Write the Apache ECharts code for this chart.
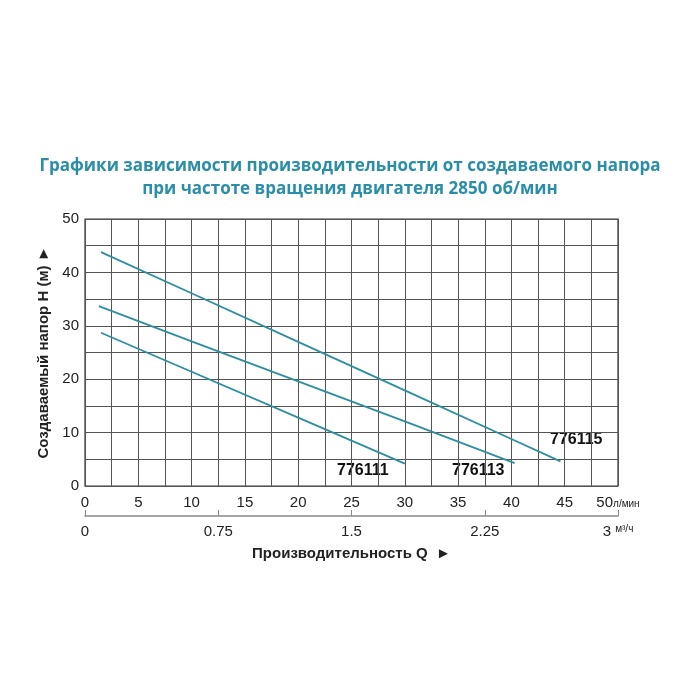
<!DOCTYPE html>
<html><head><meta charset="utf-8">
<script src="https://cdn.jsdelivr.net/npm/echarts@6/dist/echarts.min.js"></script>
<style>html,body{margin:0;background:#fff}#c{width:700px;height:700px}</style>
</head><body><div id="c"></div>
<script>
const s776115 = [[1.5,43.8],[10,36.1],[20,27.0],[30,17.9],[40,8.8],[44.6,4.6]];
const s776113 = [[1.3,33.7],[10,27.1],[20,19.6],[30,12.1],[40.3,4.3]];
const s776111 = [[1.5,28.7],[10,21.4],[20,12.8],[25,8.5],[30,4.2]];
const seriesNames = ['776111','776113','776115'];
const flowTicks = [0,0.75,1.5,2.25,3];
const lineColor = '#2b8f9f';
const chart = echarts.init(document.getElementById('c'));
const font = 'Liberation Sans';
chart.setOption({
  animation:false,
  title:{text:'Графики зависимости производительности от создаваемого напора\nпри частоте вращения двигателя 2850 об/мин',
    left:'center',top:150,textStyle:{color:'#2a8ea8',fontSize:17,fontWeight:'bold',fontFamily:'Open Sans',lineHeight:23}},
  grid:{left:85,right:82,top:219,bottom:214,show:true,borderColor:'#333',borderWidth:1.2},
  xAxis:[{type:'value',min:0,max:50,interval:2.5,
    axisLine:{show:false},axisTick:{show:false},
    splitLine:{lineStyle:{color:'#555',width:1}},
    axisLabel:{margin:9,color:'#222',fontSize:15,fontFamily:font,
      formatter:v=>v%5!==0?'':(v===50?'50{u|л/мин}':String(v)),
      rich:{u:{fontSize:10,fontFamily:font,color:'#222',padding:[4,0,0,0]}}}},
   {type:'value',min:0,max:3,interval:0.75,position:'bottom',offset:30,
    axisLine:{show:true,lineStyle:{color:'#888',width:1.5}},axisTick:{show:true,inside:true,length:6,lineStyle:{color:'#888'}},
    splitLine:{show:false},
    axisLabel:{margin:8,color:'#222',fontSize:15,fontFamily:font,
      formatter:v=>v===3?'3 {u|м³/ч}':String(v),
      rich:{u:{fontSize:10,fontFamily:font,color:'#222',padding:[0,0,6,0]}}},
    name:'Производительность Q  ►',nameLocation:'middle',nameGap:30,
    nameTextStyle:{fontWeight:'bold',fontSize:15,fontFamily:font,color:'#222'}}],
  yAxis:{type:'value',min:0,max:50,interval:5,
    axisLine:{show:false},axisTick:{show:false},
    splitLine:{lineStyle:{color:'#555',width:1}},
    axisLabel:{color:'#222',fontSize:15,fontFamily:font,margin:6,formatter:v=>v%10===0?String(v):''},
    name:'Создаваемый напор Н (м) ►',nameLocation:'middle',nameGap:26,nameRotate:90,
    nameTextStyle:{fontWeight:'bold',fontSize:15,fontFamily:font,color:'#222'}},
  series:[s776111,s776113,s776115].map((d,i)=>({name:seriesNames[i],type:'line',data:d,showSymbol:false,
    lineStyle:{color:lineColor,width:1.8},silent:true})),
  graphic:[
    {type:'text',left:337,top:463,style:{text:seriesNames[0],font:'bold 16px Liberation Sans',fill:'#111'}},
    {type:'text',left:452,top:463,style:{text:seriesNames[1],font:'bold 16px Liberation Sans',fill:'#111'}},
    {type:'text',left:550,top:432,style:{text:seriesNames[2],font:'bold 16px Liberation Sans',fill:'#111'}}
  ]
});
</script></body></html>
